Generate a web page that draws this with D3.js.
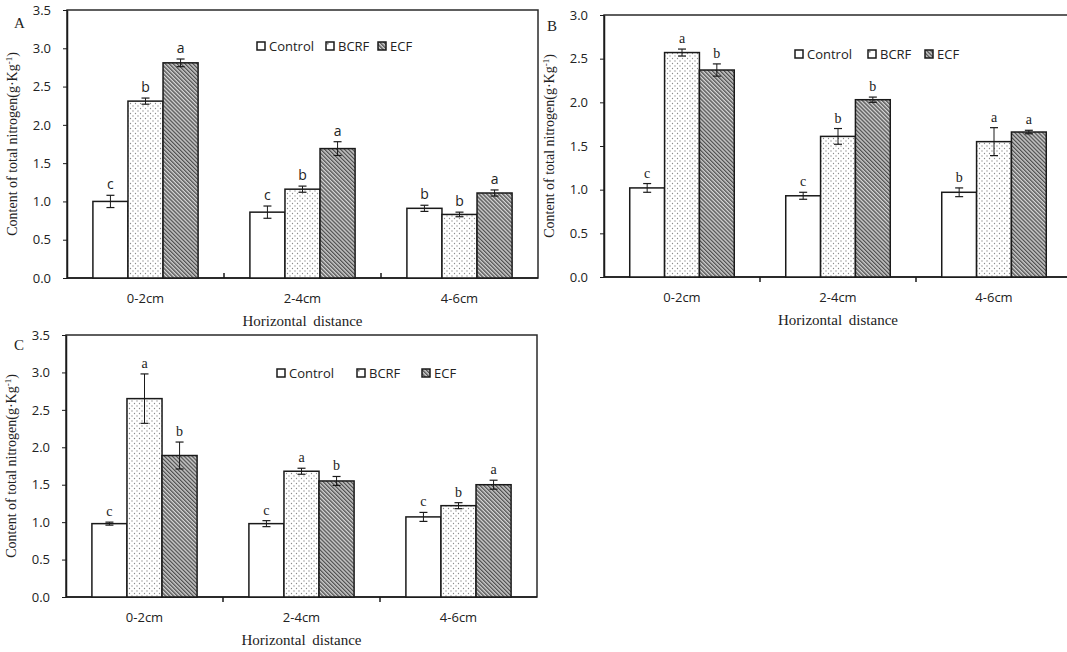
<!DOCTYPE html>
<html>
<head>
<meta charset="utf-8">
<script src="https://cdn.jsdelivr.net/npm/d3@7"></script>
<style>
  body { margin: 0; background: #fff; }
  svg { display: block; }
</style>
</head>
<body>
<svg width="1067" height="652"></svg>
<script>
"use strict";

// DATA - rows are categories, columns are series (Control, BCRF, ECF)
const categories = ["0-2cm", "2-4cm", "4-6cm"];
const seriesNames = ["Control", "BCRF", "ECF"];

const meanA = [[1.00, 2.31, 2.81], [0.86, 1.16, 1.69], [0.91, 0.83, 1.11]];
const errA = [[0.08, 0.04, 0.05], [0.08, 0.04, 0.09], [0.04, 0.03, 0.04]];
const letA = [["c", "b", "a"], ["c", "b", "a"], ["b", "b", "a"]];

const meanB = [[1.02, 2.57, 2.37], [0.93, 1.61, 2.03], [0.97, 1.55, 1.66]];
const errB = [[0.05, 0.04, 0.07], [0.04, 0.09, 0.03], [0.05, 0.16, 0.02]];
const letB = [["c", "a", "b"], ["c", "b", "b"], ["b", "a", "a"]];

const meanC = [[0.98, 2.65, 1.89], [0.98, 1.68, 1.55], [1.07, 1.22, 1.50]];
const errC = [[0.02, 0.33, 0.18], [0.04, 0.04, 0.06], [0.06, 0.04, 0.06]];
const letC = [["c", "a", "b"], ["c", "a", "b"], ["c", "b", "a"]];

const yTicks35 = [0, 0.5, 1.0, 1.5, 2.0, 2.5, 3.0, 3.5];
const yTicks30 = [0, 0.5, 1.0, 1.5, 2.0, 2.5, 3.0];

// LAYOUT
const panels = [
  { id: "A", left: 67, top: 10, width: 471, height: 268, max: 3.5, ticks: yTicks35,
    mean: meanA, err: errA, letters: letA, letterFont: "'Open Sans', sans-serif",
    xTickDir: -1, legendX: [257, 326, 378], legendY: 46, tag: [14, 28] },
  { id: "B", left: 604, top: 15, width: 468, height: 262, max: 3.0, ticks: yTicks30,
    mean: meanB, err: errB, letters: letB, letterFont: "'Liberation Serif', serif",
    xTickDir: 1, legendX: [795, 868, 925], legendY: 54, tag: [547, 31] },
  { id: "C", left: 66, top: 335, width: 471, height: 262, max: 3.5, ticks: yTicks35,
    mean: meanC, err: errC, letters: letC, letterFont: "'Liberation Serif', serif",
    xTickDir: 1, legendX: [277, 357, 422], legendY: 373, tag: [14, 350] },
];

const sans = "'Open Sans', sans-serif";
const serif = "'Liberation Serif', 'Times New Roman', serif";
const ink = "#1a1a1a";

const svg = d3.select("svg");

// PATTERNS
const defs = svg.append("defs");
const dots = defs.append("pattern")
  .attr("id", "dots")
  .attr("patternUnits", "userSpaceOnUse")
  .attr("width", 5)
  .attr("height", 5);
dots.append("rect").attr("width", 5).attr("height", 5).attr("fill", "#fff");
dots.append("circle").attr("cx", 1).attr("cy", 1).attr("r", 0.65).attr("fill", "#8a8a8a");
dots.append("circle").attr("cx", 3.5).attr("cy", 3.5).attr("r", 0.65).attr("fill", "#8a8a8a");

const hatch = defs.append("pattern")
  .attr("id", "hatch")
  .attr("patternUnits", "userSpaceOnUse")
  .attr("width", 2.8)
  .attr("height", 2.8)
  .attr("patternTransform", "rotate(-45)");
hatch.append("rect").attr("width", 2.8).attr("height", 2.8).attr("fill", "#d4d4d4");
hatch.append("line")
  .attr("x1", 0.7).attr("y1", 0).attr("x2", 0.7).attr("y2", 2.8)
  .attr("stroke", "#4a4a4a").attr("stroke-width", 1.3);

const fills = ["#fff", "url(#hatchless)", "url(#hatch)"];
fills[1] = "url(#dots)";

panels.forEach((p) => {
  const g = svg.append("g").attr("transform", `translate(${p.left},${p.top})`);

  // SCALES
  const y = d3.scaleLinear().domain([0, p.max]).range([p.height, 0]);
  const x0 = d3.scaleBand().domain(categories).range([0, p.width]);
  const gap = x0.bandwidth() * 0.165;
  const x1 = d3.scaleBand().domain(seriesNames).range([gap, x0.bandwidth() - gap]);

  // frame
  g.append("rect")
    .attr("width", p.width)
    .attr("height", p.height)
    .attr("fill", "none")
    .attr("stroke", "#2a2a2a")
    .attr("stroke-width", 1.5);

  // y axis
  const yAxis = d3.axisLeft(y).tickValues(p.ticks).tickFormat(d3.format(".1f"))
    .tickSizeInner(4).tickSizeOuter(0).tickPadding(12);
  const yg = g.append("g").call(yAxis);
  yg.select(".domain").attr("stroke", ink).attr("stroke-width", 1.5);
  yg.selectAll(".tick line").attr("stroke", ink);
  yg.selectAll("text").attr("font-family", sans).attr("font-size", 13).attr("fill", "#222");

  // x axis - ticks between categories
  const xg = g.append("g").attr("transform", `translate(0,${p.height})`);
  xg.append("line").attr("x2", p.width).attr("stroke", ink).attr("stroke-width", 1.5);
  xg.selectAll(".sep")
    .data(categories.slice(1))
    .enter()
    .append("line")
    .attr("x1", (d) => x0(d))
    .attr("x2", (d) => x0(d))
    .attr("y2", 5 * p.xTickDir)
    .attr("stroke", ink)
    .attr("stroke-width", 1.5);
  xg.selectAll(".cat")
    .data(categories)
    .enter()
    .append("text")
    .attr("x", (d) => x0(d) + x0.bandwidth() / 2)
    .attr("y", 25)
    .attr("text-anchor", "middle")
    .attr("font-family", sans)
    .attr("font-size", 13)
    .attr("fill", "#222")
    .text((d) => d);
  xg.append("text")
    .attr("x", p.width / 2)
    .attr("y", 48)
    .attr("text-anchor", "middle")
    .attr("font-family", serif)
    .attr("font-size", 15)
    .attr("word-spacing", 3)
    .attr("fill", "#222")
    .text("Horizontal distance");

  // y title
  const yt = g.append("text")
    .attr("transform", `translate(${-50},${p.height / 2}) rotate(-90)`)
    .attr("text-anchor", "middle")
    .attr("font-family", serif)
    .attr("font-size", 14)
    .attr("fill", "#222");
  yt.append("tspan").text("Content of total nitrogen(g·Kg");
  yt.append("tspan").attr("dy", -5).attr("font-size", 9).text("-1");
  yt.append("tspan").attr("dy", 5).text(")");

  // panel tag
  svg.append("text")
    .attr("x", p.tag[0])
    .attr("y", p.tag[1])
    .attr("font-family", serif)
    .attr("font-size", 15)
    .attr("fill", "#222")
    .text(p.id);

  // BARS
  const groups = g.selectAll(".grp")
    .data(categories)
    .enter()
    .append("g")
    .attr("transform", (d) => `translate(${x0(d)},0)`);

  const cells = groups.selectAll(".cell")
    .data((d, i) => seriesNames.map((s, j) => ({
      s, j, v: p.mean[i][j], e: p.err[i][j], l: p.letters[i][j],
    })))
    .enter()
    .append("g");

  cells.append("rect")
    .attr("x", (d) => x1(d.s))
    .attr("y", (d) => y(d.v))
    .attr("width", x1.bandwidth())
    .attr("height", (d) => p.height - y(d.v))
    .attr("fill", (d) => fills[d.j])
    .attr("stroke", ink)
    .attr("stroke-width", 1.5);

  // error bars
  const cx = (d) => x1(d.s) + x1.bandwidth() / 2;
  cells.append("line")
    .attr("x1", cx).attr("x2", cx)
    .attr("y1", (d) => y(d.v + d.e))
    .attr("y2", (d) => y(d.v - d.e))
    .attr("stroke", ink).attr("stroke-width", 1);
  [1, -1].forEach((k) => {
    cells.append("line")
      .attr("x1", (d) => cx(d) - 4).attr("x2", (d) => cx(d) + 4)
      .attr("y1", (d) => y(d.v + k * d.e))
      .attr("y2", (d) => y(d.v + k * d.e))
      .attr("stroke", ink).attr("stroke-width", 1.2);
  });

  cells.append("text")
    .attr("x", cx)
    .attr("y", (d) => y(d.v + d.e) - 6)
    .attr("text-anchor", "middle")
    .attr("font-family", p.letterFont)
    .attr("font-size", 14)
    .attr("fill", "#222")
    .text((d) => d.l);

  // LEGEND
  const lg = svg.append("g");
  seriesNames.forEach((s, j) => {
    const lx = p.legendX[j];
    lg.append("rect")
      .attr("x", lx)
      .attr("y", p.legendY - 4)
      .attr("width", 8)
      .attr("height", 8)
      .attr("fill", j === 1 ? "#fff" : fills[j])
      .attr("stroke", ink)
      .attr("stroke-width", 1.5);
    if (j === 1) {
      lg.append("rect").attr("x", lx + 1).attr("y", p.legendY - 3)
        .attr("width", 1.5).attr("height", 1.5).attr("fill", "#777");
    }
    lg.append("text")
      .attr("x", lx + 12)
      .attr("y", p.legendY + 5)
      .attr("font-family", sans)
      .attr("font-size", 13)
      .attr("fill", "#222")
      .text(s);
  });
});
</script>
</body>
</html>
